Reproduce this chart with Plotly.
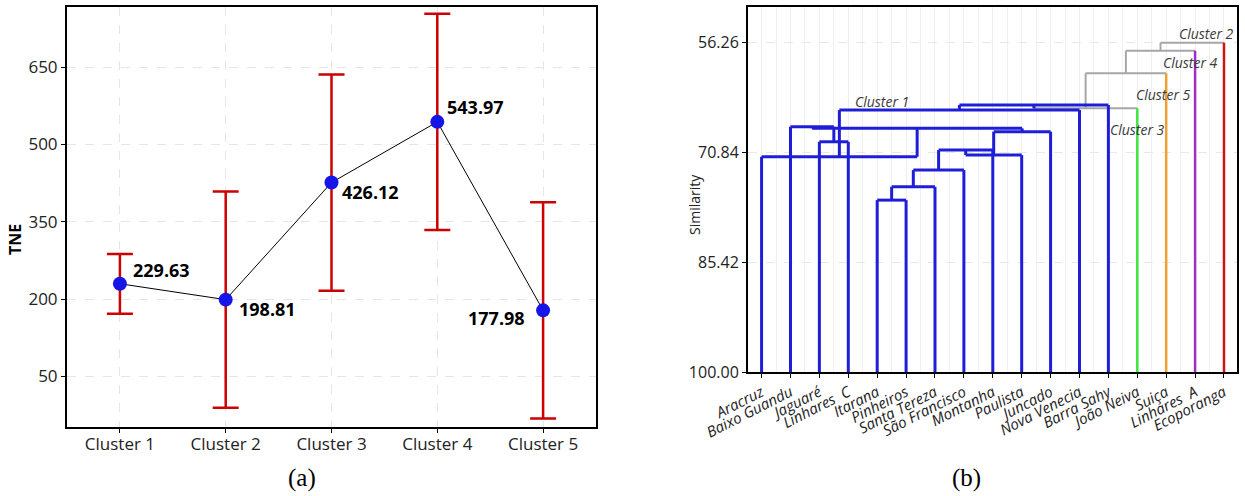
import plotly.graph_objects as go

# ---- (a) mean TNE per cluster with error bars ----
clusters = ["Cluster 1", "Cluster 2", "Cluster 3", "Cluster 4", "Cluster 5"]
tne_mean = [229.63, 198.81, 426.12, 543.97, 177.98]
tne_err = [58, 210, 210, 210, 210]
tne_ticks = [50, 200, 350, 500, 650]

# ---- (b) dendrogram of sites (similarity) ----
sites = ["Aracruz", "Baixo Guandu", "Jaguaré", "Linhares\u00a0\u00a0C", "Itarana",
         "Pinheiros", "Santa Tereza", "São Francisco", "Montanha", "Paulista",
         "Juncado", "Nova Venecia", "Barra Sahy", "João Neiva", "Suiça",
         "Linhares\u00a0\u00a0A", "Ecoporanga"]
site_cluster = [1, 1, 1, 1, 1, 1, 1, 1, 1, 1, 1, 1, 1, 3, 5, 4, 2]
# linkage rows: [node a, node b, similarity]; node ids >= len(sites) are earlier rows
linkage = [
    [4, 5, 77.17],
    [17, 6, 75.40],
    [18, 7, 73.18],
    [19, 8, 70.52],
    [20, 9, 71.19],
    [21, 10, 68.09],
    [2, 3, 69.42],
    [1, 23, 67.42],
    [24, 22, 67.64],
    [0, 25, 71.41],
    [26, 11, 65.21],
    [27, 12, 64.54],
    [28, 13, 64.98],
    [29, 14, 60.33],
    [30, 15, 57.32],
    [31, 16, 56.26],
]
sim_ticks = [56.26, 70.84, 85.42, 100.00]

W, H = 1245, 496
FONT = "Open Sans"

fig = go.Figure()

# panel (a)
fig.add_trace(go.Scatter(
    x=clusters, y=tne_mean, mode="lines+markers",
    line=dict(color="black", width=1),
    marker=dict(color="#1515e8", size=14),
    error_y=dict(type="data", array=tne_err, color="#cc0000", thickness=2.5, width=13),
    xaxis="x", yaxis="y", showlegend=False, hoverinfo="skip",
))

label_offsets = [(42, 14), (42, -9), (39, -9), (38, 15), (-47, -8)]
annotations = []
for c, v, (dx, dy) in zip(clusters, tne_mean, label_offsets):
    annotations.append(dict(
        x=c, y=v, xref="x", yref="y", text=f"{v:.2f}", showarrow=False,
        xshift=dx, yshift=dy, font=dict(family=FONT, size=18, color="black", weight="bold"),
    ))

# panel (b): compute node positions / heights and link segments
n = len(sites)
pos = {i: float(i) for i in range(n)}
height = {i: 100.0 for i in range(n)}
groups = {i: {site_cluster[i]} for i in range(n)}
cluster_color = {1: "#1e1ed8", 2: "#d01414", 3: "#3ee63e", 4: "#a42cc4", 5: "#f0a030"}
GREY = "#a6a6a6"


def node_color(k):
    g = groups[k]
    return cluster_color[next(iter(g))] if len(g) == 1 else GREY


segs = {}
for j, (a, b, s) in enumerate(linkage):
    k = n + j
    pos[k] = (pos[a] + pos[b]) / 2
    height[k] = s
    groups[k] = groups[a] | groups[b]
    for c in (a, b):
        segs.setdefault(node_color(c), []).append(((pos[c], height[c]), (pos[c], s)))
    segs.setdefault(node_color(k), []).append(((pos[a], s), (pos[b], s)))

widths = {GREY: 2}
draw_order = [GREY] + [cluster_color[i] for i in (3, 5, 4, 2, 1)]
for col in draw_order:
    if col not in segs:
        continue
    xs, ys = [], []
    for (x0, y0), (x1, y1) in segs[col]:
        xs += [x0, x1, None]
        ys += [y0, y1, None]
    fig.add_trace(go.Scatter(
        x=xs, y=ys, mode="lines",
        line=dict(color=col, width=widths.get(col, 3 if col == cluster_color[1] else 2.5)),
        xaxis="x2", yaxis="y2", showlegend=False, hoverinfo="skip",
    ))

cluster_labels = [
    ("Cluster 1", 4.16, 64.01),
    ("Cluster 2", 15.41, 55.10),
    ("Cluster 4", 14.84, 58.92),
    ("Cluster 5", 13.89, 63.08),
    ("Cluster 3", 13.02, 67.73),
]
for t, x, y in cluster_labels:
    annotations.append(dict(
        x=x, y=y, xref="x2", yref="y2", text=t, showarrow=False,
        font=dict(family=FONT, size=14, color="#3a3a3a", style="italic"),
    ))

# axis titles and captions (paper coordinates, centred on the given point)
centred = dict(xref="paper", yref="paper", xanchor="center", yanchor="middle", showarrow=False)
annotations += [
    dict(x=15 / W, y=(H - 240) / H, text="TNE", textangle=-90,
         font=dict(family=FONT, size=16, color="black", weight="bold"), **centred),
    dict(x=694 / W, y=(H - 205) / H, text="Similarity", textangle=-90,
         font=dict(family=FONT, size=14, color="#222"), **centred),
    dict(x=302 / W, y=(H - 478) / H, text="(a)",
         font=dict(family="Liberation Serif", size=25, color="black"), **centred),
    dict(x=966 / W, y=(H - 478) / H, text="(b)",
         font=dict(family="Liberation Serif", size=25, color="black"), **centred),
]

frame = dict(showline=True, mirror=True, linecolor="black", linewidth=2,
             ticks="outside", ticklen=4, tickcolor="black", zeroline=False,
             automargin=False)
grid_a = dict(showgrid=True, gridcolor="#e6e6e6", griddash="dash", gridwidth=1)
grid_b = dict(showgrid=True, gridcolor="#eeeeee", gridwidth=1)

fig.update_layout(
    width=W, height=H, margin=dict(l=0, r=0, t=0, b=0),
    paper_bgcolor="white", plot_bgcolor="white",
    font=dict(family=FONT, color="#222"),
    xaxis=dict(domain=[67 / W, 596 / W], anchor="y", type="category",
               range=[-0.5, 4.5], tickfont=dict(size=17, color="#222"),
               ticklabelstandoff=-3, **frame, **grid_a),
    yaxis=dict(domain=[(H - 427) / H, (H - 7) / H], anchor="x",
               range=[-48.5, 767], tickvals=tne_ticks, tickfont=dict(size=17, color="#222"),
               **frame, **grid_a),
    xaxis2=dict(domain=[748 / W, 1237 / W], anchor="y2", range=[-0.47, 16.45],
                tickvals=list(range(n)), ticktext=sites, tickangle=-27,
                tickfont=dict(size=15, color="#222", style="italic"),
                minor=dict(tickvals=[i + 0.5 for i in range(n - 1)], showgrid=True,
                           gridcolor="#f0f0f0", ticks=""),
                **frame, **grid_b),
    yaxis2=dict(domain=[(H - 372) / H, (H - 7) / H], anchor="x2",
                range=[100, 51.52], tickvals=sim_ticks,
                ticktext=[f"{v:.2f}" for v in sim_ticks],
                tickfont=dict(size=16, color="#222"), **frame,
                showgrid=True, gridcolor="#e8e8e8", griddash="dash", gridwidth=1),
    annotations=annotations,
)

fig.write_html("out.html")
